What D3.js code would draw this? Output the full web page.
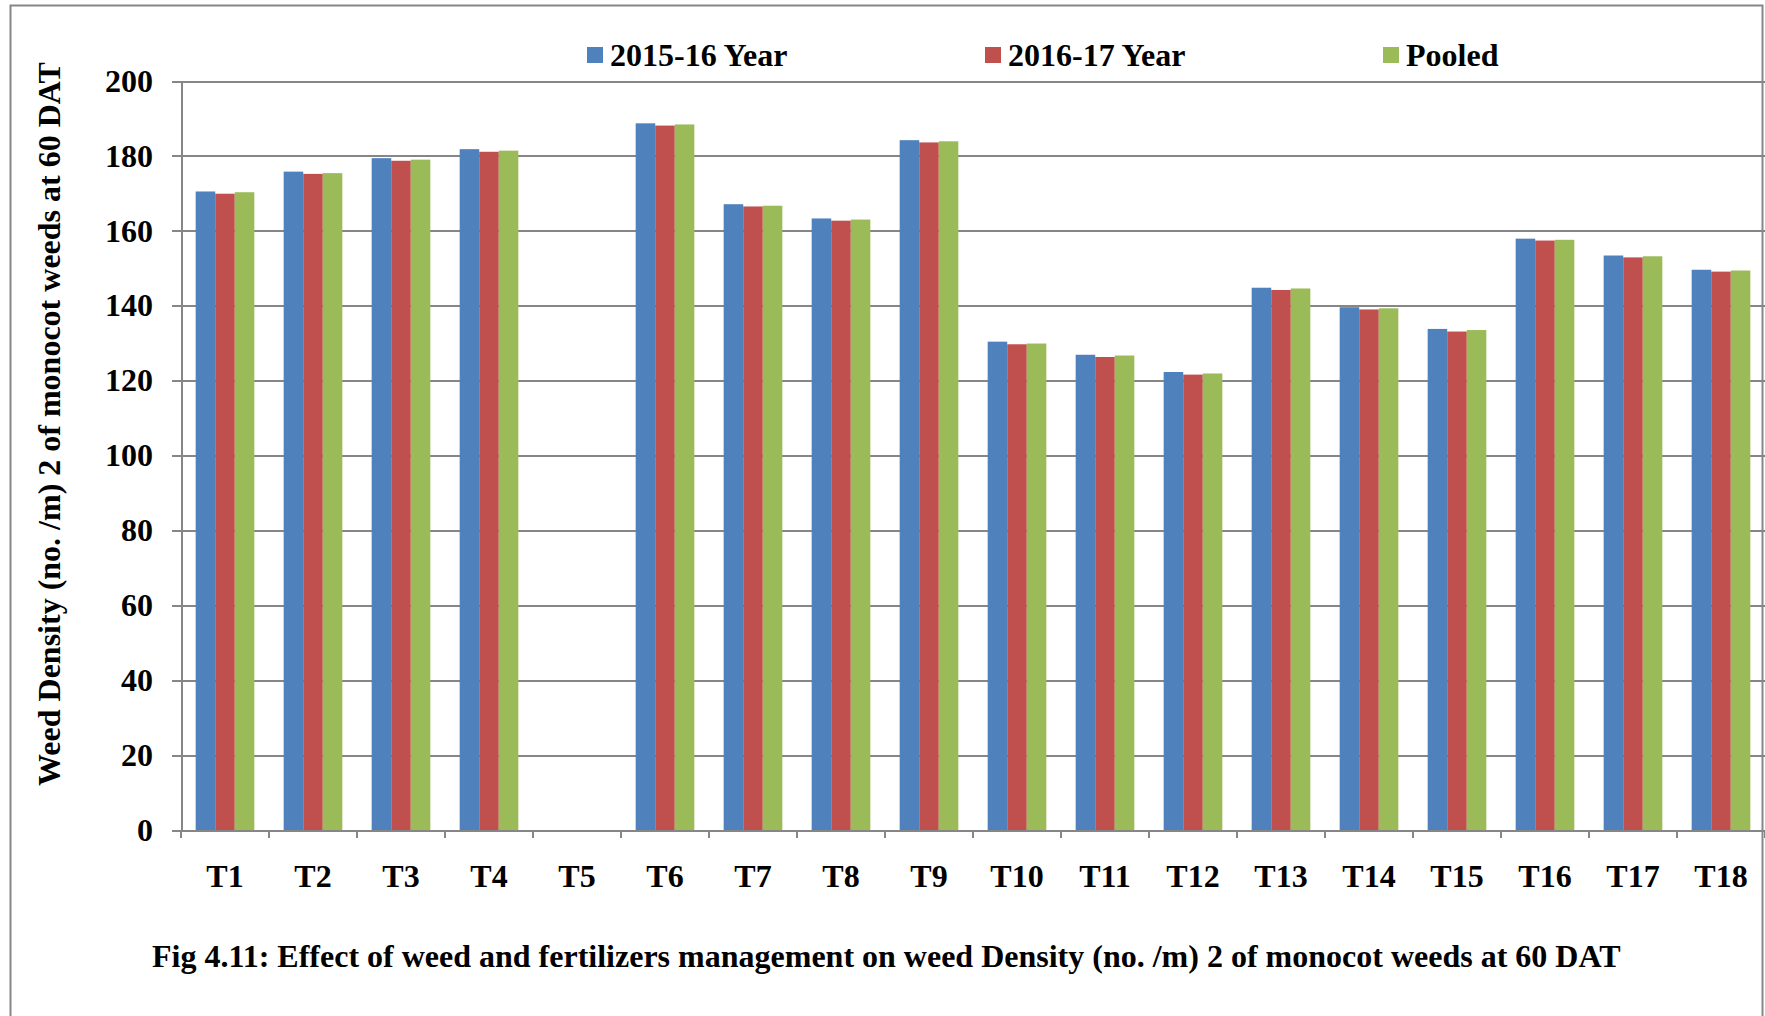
<!DOCTYPE html>
<meta charset="utf-8">
<html>
  <head>
    <title>Weed density monocot 60 DAT</title>
    <script src="https://d3js.org/d3.v7.min.js"></script>
    <style type="text/css">
      body{
        margin: 0;
        background: #fff;
        font-family: "Liberation Serif", "Times New Roman", serif;
        font-weight: bold;
      }
      .axis path, .axis line{
        fill: none;
        stroke: #868686;
        stroke-width: 2;
        shape-rendering: crispEdges;
      }
      .axis text{
        font-family: "Liberation Serif", serif;
        font-weight: bold;
        fill: #000;
      }
      .grid line{
        stroke: #868686;
        stroke-width: 2;
        shape-rendering: crispEdges;
      }
      .grid path{
        stroke: none;
      }
    </style>
  </head>
  <body>
    <div id="plot"></div>
  </body>

  <script>
    // data
    var treatments = ["T1","T2","T3","T4","T5","T6","T7","T8","T9","T10","T11","T12","T13","T14","T15","T16","T17","T18"];
    var seriesNames = ["2015-16 Year","2016-17 Year","Pooled"];
    var year1 = [170.5,175.8,179.4,181.8,0,188.7,167.1,163.3,184.2,130.4,126.9,122.3,144.8,139.6,133.8,157.9,153.4,149.6];
    var year2 = [169.9,175.2,178.7,181.1,0,188.1,166.5,162.7,183.6,129.7,126.3,121.6,144.2,139.0,133.1,157.4,152.9,149.1];
    var pooled = [170.3,175.4,179.0,181.4,0,188.4,166.7,163.0,183.9,129.9,126.7,121.9,144.6,139.3,133.5,157.6,153.2,149.4];
    var yTicks = [0,20,40,60,80,100,120,140,160,180,200];
    var colors = ["#4F81BD","#C0504D","#9BBB59"];

    var W = 1765, H = 1016;
    var margin = {top:81, right:0, bottom:186, left:181},
        width = W-margin.left-margin.right,
        height = H-margin.top-margin.bottom;

    var root = d3.select("#plot").append("svg")
        .attr("width", W)
        .attr("height", H);

    // outer frame
    root.append("rect")
        .attr("x",10.5).attr("y",5.5)
        .attr("width",1752).attr("height",H+20)
        .style("fill","none")
        .style("stroke","#868686")
        .style("stroke-width",2);

    var svg = root.append("g")
        .attr("transform","translate("+margin.left+","+margin.top+")");

    var rows = treatments.map(function(t,i){
      return {name:t, values:[year1[i],year2[i],pooled[i]]};
    });

    var x0 = d3.scaleBand()
        .domain(treatments)
        .range([0,width]);

    // 3 bars + 150% gap per category
    var x1 = d3.scaleBand()
        .domain(seriesNames)
        .range([0,x0.bandwidth()])
        .paddingOuter(0.75);

    var yScale = d3.scaleLinear()
        .domain([0,200])
        .range([height,0]);

    // horizontal grid
    svg.append("g")
        .attr("class","grid")
        .call(d3.axisLeft(yScale).tickValues(yTicks).tickSize(-width).tickFormat(""));

    // bars
    var groups = svg.selectAll(".grp")
        .data(rows)
      .enter().append("g")
        .attr("class","grp")
        .attr("transform",function(d){return "translate("+x0(d.name)+",0)";});

    groups.selectAll("rect")
        .data(function(d){return d.values.map(function(v,j){return {s:seriesNames[j],v:v,c:colors[j]};});})
      .enter().append("rect")
        .filter(function(d){return d.v>0;})
        .attr("x",function(d){return x1(d.s);})
        .attr("width",x1.bandwidth())
        .attr("y",function(d){return yScale(d.v);})
        .attr("height",function(d){return height-yScale(d.v);})
        .style("fill",function(d){return d.c;});

    // y axis
    var yAxis = svg.append("g")
        .attr("class","axis")
        .call(d3.axisLeft(yScale).tickValues(yTicks).tickSize(9).tickPadding(19).tickSizeOuter(0));
    yAxis.selectAll("text").style("font-size","32px");

    // x axis, labels centered in the bands
    var xAxis = svg.append("g")
        .attr("class","axis")
        .attr("transform","translate(0,"+height+")")
        .call(d3.axisBottom(x0).tickSize(0).tickPadding(34).tickSizeOuter(0));
    xAxis.selectAll("text").style("font-size","32px");

    // tick marks on category boundaries
    xAxis.selectAll(".bound")
        .data(treatments.concat(["end"]))
      .enter().append("line")
        .attr("class","bound")
        .attr("x1",function(d,i){return i*x0.step();})
        .attr("x2",function(d,i){return i*x0.step();})
        .attr("y1",0)
        .attr("y2",8);

    // y title
    root.append("text")
        .attr("transform","rotate(-90)")
        .attr("x",-424)
        .attr("y",60)
        .style("text-anchor","middle")
        .style("font-size","32px")
        .text("Weed Density (no. /m) 2 of monocot weeds at 60 DAT");

    // legend
    var leg = root.selectAll(".legend")
        .data(seriesNames)
      .enter().append("g")
        .attr("class","legend")
        .attr("transform",function(d,i){return "translate("+(587+i*398)+",0)";});

    leg.append("rect")
        .attr("x",0).attr("y",47)
        .attr("width",16).attr("height",16)
        .style("fill",function(d,i){return colors[i];});

    leg.append("text")
        .attr("x",23).attr("y",66)
        .style("font-size","32px")
        .text(function(d){return d;});

    // caption
    root.append("text")
        .attr("x",152)
        .attr("y",967)
        .style("font-size","32px")
        .text("Fig 4.11: Effect of weed and fertilizers management on weed Density (no. /m) 2 of monocot weeds at 60 DAT");
  </script>
</html>
